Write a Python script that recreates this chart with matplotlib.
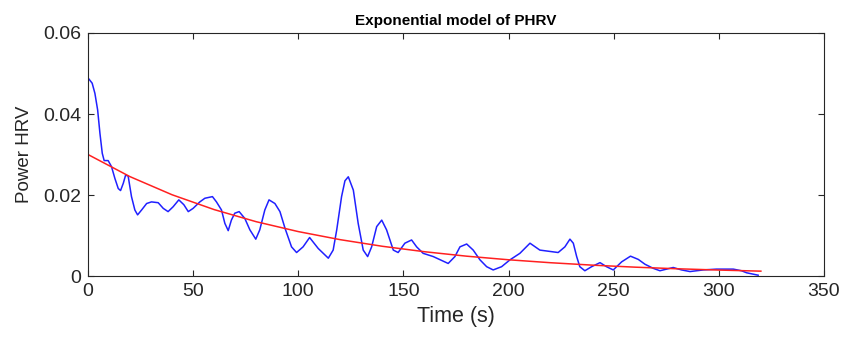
import matplotlib
matplotlib.use("Agg")
import matplotlib.pyplot as plt

t_phrv = [0.5, 2.0, 3.3, 4.6, 5.7, 6.8, 7.7, 9.6, 11.2, 12.8, 14.4, 15.5, 16.8, 17.9,
          19.1, 20.7, 22.3, 23.6, 25.5, 27.9, 30.2, 33.4, 35.8, 38.1, 40.5, 43.2,
          45.6, 47.7, 50.0, 53.2, 55.6, 59.2, 61.1, 63.5, 65.1, 66.7, 68.2, 69.8,
          71.9, 74.6, 77.0, 79.8, 81.7, 84.1, 86.1, 88.9, 91.3, 93.7, 96.8, 99.2,
          102.3, 105.4, 109.5, 114.3, 116.6, 118.3, 120.6, 122.2, 123.8, 126.2,
          128.5, 130.9, 133.0, 134.9, 137.3, 139.7, 142.0, 145.2, 147.5, 150.7,
          153.9, 156.3, 159.4, 164.2, 171.3, 174.5, 176.9, 180.1, 183.2, 186.4,
          189.6, 192.7, 196.7, 200.7, 205.4, 210.2, 214.9, 223.6, 226.8, 229.2,
          230.8, 232.4, 233.9, 236.3, 239.5, 243.5, 246.6, 249.8, 253.8, 258.0,
          261.7, 264.9, 268.8, 272.0, 278.3, 282.3, 286.3, 292.6, 298.9, 306.9,
          310.8, 313.2, 318.7]
p_phrv = [0.0486, 0.0476, 0.0451, 0.0410, 0.0352, 0.0303, 0.0285, 0.0285, 0.0270,
          0.0241, 0.0216, 0.0211, 0.0229, 0.0249, 0.0247, 0.0196, 0.0163, 0.0151,
          0.0163, 0.0179, 0.0183, 0.0181, 0.0167, 0.0159, 0.0171, 0.0188, 0.0176,
          0.0159, 0.0167, 0.0183, 0.0192, 0.0196, 0.0183, 0.0163, 0.0130, 0.0112,
          0.0138, 0.0155, 0.0159, 0.0142, 0.0114, 0.0091, 0.0114, 0.0163, 0.0188,
          0.0179, 0.0159, 0.0118, 0.0072, 0.0058, 0.0072, 0.0095, 0.0068, 0.0044,
          0.0064, 0.0114, 0.0196, 0.0235, 0.0245, 0.0212, 0.0130, 0.0064, 0.0048,
          0.0072, 0.0122, 0.0138, 0.0114, 0.0064, 0.0058, 0.0081, 0.0089, 0.0072,
          0.0056, 0.0048, 0.0031, 0.0048, 0.0072, 0.0079, 0.0064, 0.0040, 0.0023,
          0.0015, 0.0023, 0.0040, 0.0056, 0.0081, 0.0064, 0.0058, 0.0072, 0.0091,
          0.0081, 0.0048, 0.0023, 0.0013, 0.0023, 0.0033, 0.0023, 0.0015, 0.0035,
          0.0049, 0.0041, 0.0029, 0.0019, 0.0013, 0.0021, 0.0015, 0.0011, 0.0015,
          0.0017, 0.0017, 0.0013, 0.0008, 0.0002]

# red: exponential model, sampled every 20 s
t_model = [0, 20, 40, 60, 80, 100, 120, 140, 160, 180, 200, 220, 240, 260, 280, 300, 320]
p_model = [0.0300, 0.02453, 0.02006, 0.01640, 0.01341, 0.01097, 0.00897, 0.00734,
           0.00600, 0.00490, 0.00401, 0.00328, 0.00268, 0.00219, 0.00179, 0.00147,
           0.00120]

x_ticks = [0, 50, 100, 150, 200, 250, 300, 350]
y_ticks = [0, 0.02, 0.04, 0.06]
y_labels = ["0", "0.02", "0.04", "0.06"]

plt.rcParams['font.family'] = ['Liberation Sans', 'DejaVu Sans']
dark = (0.15, 0.15, 0.15)

fig = plt.figure(figsize=(8.45, 3.43), dpi=100)
ax = fig.add_axes([0.1041, 0.1953, 0.8710, 0.7085])

ax.plot(t_phrv, p_phrv, color='#2020ff', lw=1.1)
ax.plot(t_model, p_model, color='#ff2020', lw=1.1)

ax.set_xlim(0, 350)
ax.set_ylim(0, 0.06)
ax.set_xticks(x_ticks)
ax.set_yticks(y_ticks)
ax.set_yticklabels(y_labels)
ax.tick_params(direction='in', length=4, width=0.8, colors=dark, labelsize=14,
               top=True, right=True, pad=5)
for s in ax.spines.values():
    s.set_color(dark)
    s.set_linewidth(0.8)

ax.set_xlabel('Time (s)', fontsize=15.5, color=dark, labelpad=4)
ax.set_ylabel('Power HRV', fontsize=13.5, color=dark, labelpad=7)
ax.set_title('Exponential model of PHRV', fontsize=11, fontweight='bold', color='black', pad=6)

fig.savefig('out.png', dpi=100)
